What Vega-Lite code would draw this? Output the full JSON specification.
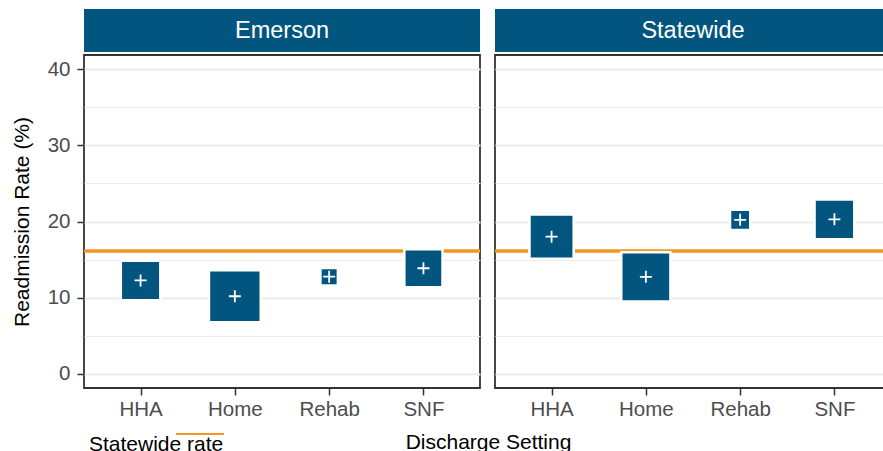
{
  "$schema": "https://vega.github.io/schema/vega-lite/v6.json",
  "background": "white",
  "padding": {"left": 10, "top": 9, "right": 0, "bottom": 0},
  "bounds": "flush",
  "columns": 2,
  "spacing": {"row": 3, "column": 15},
  "config": {
    "font": "Liberation Sans",
    "view": {"stroke": null},
    "axis": {
      "labelFont": "Liberation Sans",
      "titleFont": "Liberation Sans",
      "labelFontSize": 20.5,
      "labelColor": "#4D4D4D",
      "titleFontSize": 21,
      "titleFontWeight": "normal",
      "titleColor": "#000000",
      "tickColor": "#333333",
      "tickWidth": 1.5,
      "tickSize": 7,
      "labelPadding": 7,
      "domain": false,
      "gridColor": "#EBEBEB"
    },
    "axisX": {"labelPadding": 4},
    "legend": {
      "orient": "none",
      "legendX": 91,
      "legendY": 400,
      "title": null,
      "symbolType": "stroke",
      "symbolSize": 2304,
      "symbolStrokeWidth": 2,
      "labelFont": "Liberation Sans",
      "labelFontSize": 21,
      "labelColor": "#000000",
      "labelOffset": -136,
      "labelBaseline": "top",
      "padding": 0
    }
  },
  "datasets": {
    "rates": [
      {"site": "Emerson", "setting": "HHA", "rate": 12.25, "share": 25.2},
      {"site": "Emerson", "setting": "Home", "rate": 10.17, "share": 43.3},
      {"site": "Emerson", "setting": "Rehab", "rate": 12.74, "share": 4.9},
      {"site": "Emerson", "setting": "SNF", "rate": 13.85, "share": 23.5},
      {"site": "Statewide", "setting": "HHA", "rate": 18.0, "share": 31.5},
      {"site": "Statewide", "setting": "Home", "rate": 12.72, "share": 39.0},
      {"site": "Statewide", "setting": "Rehab", "rate": 20.22, "share": 6.6},
      {"site": "Statewide", "setting": "SNF", "rate": 20.28, "share": 25.5}
    ],
    "ref": [
      {"label": "Statewide rate", "rate": 16.13}
    ]
  },
  "concat": [
    {
      "width": 396,
      "height": 43,
      "view": {"fill": "#02557E", "stroke": null},
      "data": {"values": [{"site": "Emerson"}]},
      "mark": {"type": "text", "color": "white", "fontSize": 23.5, "align": "center", "baseline": "middle", "font": "Liberation Sans"},
      "encoding": {"text": {"field": "site", "type": "nominal"}}
    },
    {
      "width": 396,
      "height": 43,
      "view": {"fill": "#02557E", "stroke": null},
      "data": {"values": [{"site": "Statewide"}]},
      "mark": {"type": "text", "color": "white", "fontSize": 23.5, "align": "center", "baseline": "middle", "font": "Liberation Sans"},
      "encoding": {"text": {"field": "site", "type": "nominal"}}
    },
    {
      "width": 396,
      "height": 333,
      "view": {"stroke": "#333333", "strokeWidth": 1.8},
      "layer": [
        {
          "data": {"name": "ref"},
          "mark": {"type": "rule", "strokeWidth": 3.5},
          "encoding": {
            "y": {
              "field": "rate",
              "type": "quantitative",
              "scale": {"domain": [-1.9, 41.9], "nice": false, "zero": false},
              "axis": {"values": [0, 10, 20, 30, 40], "title": "Readmission Rate (%)", "grid": true, "gridWidth": 2, "titlePadding": 15}
            },
            "color": {
              "field": "label",
              "type": "nominal",
              "scale": {"domain": ["Statewide rate"], "range": ["#F7941D"]}
            }
          }
        },
        {
          "data": {"name": "rates"},
          "transform": [{"filter": "datum.site === 'Emerson'"}],
          "mark": {"type": "point", "shape": "square", "filled": true, "fill": "#02557E", "stroke": "white", "strokeWidth": 2.5, "opacity": 1},
          "encoding": {
            "x": {
              "field": "setting",
              "type": "nominal",
              "scale": {"type": "point", "padding": 0.6, "domain": ["HHA", "Home", "Rehab", "SNF"]},
              "axis": {"labelAngle": 0, "grid": false, "title": "Discharge Setting", "titleX": 404, "titleY": 60, "titleBaseline": "alphabetic", "titleAlign": "center"}
            },
            "y": {
              "field": "rate",
              "type": "quantitative",
              "axis": {"values": [5, 15, 25, 35], "labels": false, "ticks": false, "title": null, "grid": true, "gridWidth": 1, "orient": "left"}
            },
            "size": {"field": "share", "type": "quantitative", "scale": {"domain": [0, 50], "range": [0, 3100]}, "legend": null}
          }
        },
        {
          "data": {"name": "rates"},
          "transform": [{"filter": "datum.site === 'Emerson'"}],
          "mark": {"type": "point", "shape": "M-1,0H1M0,-1V1", "filled": false, "stroke": "white", "strokeWidth": 1.8, "size": 144, "opacity": 1},
          "encoding": {
            "x": {"field": "setting", "type": "nominal"},
            "y": {"field": "rate", "type": "quantitative", "axis": null}
          }
        }
      ],
      "resolve": {"axis": {"y": "independent"}}
    },
    {
      "width": 396,
      "height": 333,
      "view": {"stroke": "#333333", "strokeWidth": 1.8},
      "layer": [
        {
          "data": {"name": "ref"},
          "mark": {"type": "rule", "strokeWidth": 3.5, "color": "#F7941D"},
          "encoding": {
            "y": {
              "field": "rate",
              "type": "quantitative",
              "scale": {"domain": [-1.9, 41.9], "nice": false, "zero": false},
              "axis": {"values": [0, 10, 20, 30, 40], "labels": false, "ticks": false, "title": null, "grid": true, "gridWidth": 2}
            }
          }
        },
        {
          "data": {"name": "rates"},
          "transform": [{"filter": "datum.site === 'Statewide'"}],
          "mark": {"type": "point", "shape": "square", "filled": true, "fill": "#02557E", "stroke": "white", "strokeWidth": 2.5, "opacity": 1},
          "encoding": {
            "x": {
              "field": "setting",
              "type": "nominal",
              "scale": {"type": "point", "padding": 0.6, "domain": ["HHA", "Home", "Rehab", "SNF"]},
              "axis": {"labelAngle": 0, "grid": false, "title": null}
            },
            "y": {
              "field": "rate",
              "type": "quantitative",
              "axis": {"values": [5, 15, 25, 35], "labels": false, "ticks": false, "title": null, "grid": true, "gridWidth": 1, "orient": "left"}
            },
            "size": {"field": "share", "type": "quantitative", "scale": {"domain": [0, 50], "range": [0, 3100]}, "legend": null}
          }
        },
        {
          "data": {"name": "rates"},
          "transform": [{"filter": "datum.site === 'Statewide'"}],
          "mark": {"type": "point", "shape": "M-1,0H1M0,-1V1", "filled": false, "stroke": "white", "strokeWidth": 1.8, "size": 144, "opacity": 1},
          "encoding": {
            "x": {"field": "setting", "type": "nominal"},
            "y": {"field": "rate", "type": "quantitative", "axis": null}
          }
        }
      ],
      "resolve": {"axis": {"y": "independent"}}
    }
  ]
}
